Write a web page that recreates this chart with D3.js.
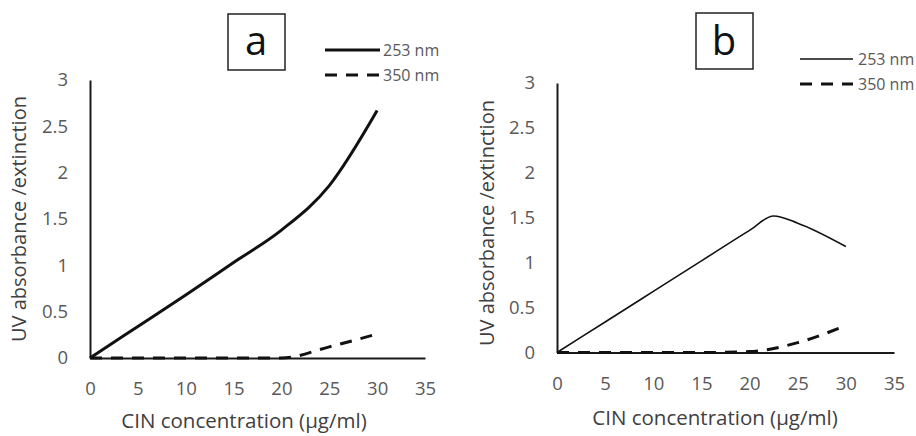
<!DOCTYPE html>
<html>
<head>
<meta charset="utf-8">
<script src="https://cdn.jsdelivr.net/npm/d3@7"></script>
<style>
  body { margin: 0; background: #fff; }
  svg { display: block; font-family: "Open Sans", sans-serif; }
</style>
</head>
<body>
<div id="content"></div>
<script>
// concentrations (µg/ml) and absorbance
var concA = [0, 5, 10, 15, 20, 25, 30];
var a253 = [0, 0.34, 0.68, 1.03, 1.38, 1.86, 2.67];
var a350 = [0, 0, 0, 0, 0, 0.12, 0.26];

var concB253 = [0, 5, 10, 15, 20, 22.5, 25, 30];
var b253 = [0, 0.34, 0.68, 1.02, 1.36, 1.52, 1.44, 1.18];
var concB350 = [0, 5, 10, 15, 20, 25, 30];
var b350 = [0, 0, 0, 0, 0.01, 0.11, 0.3];

var xTicks = [0, 5, 10, 15, 20, 25, 30, 35];
var yTicks = [0, 0.5, 1, 1.5, 2, 2.5, 3];
var seriesNames = ["253 nm", "350 nm"];
var panelLetters = ["a", "b"];

var width = 916, height = 436;

var svg = d3.select("#content").append("svg")
    .attr("width", width)
    .attr("height", height);

var panels = [
    {
        letter: panelLetters[0],
        x: [90, 425], y: [358, 80],
        series: [
            { name: seriesNames[0], xs: concA, ys: a253, width: 3, dash: null },
            { name: seriesNames[1], xs: concA, ys: a350, width: 3, dash: "12,9" }
        ],
        box: [228, 14], letterX: 256,
        legend: { x1: 325, x2: 380, y: [50, 75], tx: 383 },
        xTitle: [244, 428], yTitle: [26, 219], tickPad: 24
    },
    {
        letter: panelLetters[1],
        x: [557, 894], y: [352.5, 83],
        series: [
            { name: seriesNames[0], xs: concB253, ys: b253, width: 1.6, dash: null },
            { name: seriesNames[1], xs: concB350, ys: b350, width: 3, dash: "12,9" }
        ],
        box: [696, 13], letterX: 724,
        legend: { x1: 800, x2: 853, y: [59, 84], tx: 858 },
        xTitle: [715, 425], yTitle: [494, 223], tickPad: 24
    }
];

panels.forEach(function (p) {
    var x = d3.scaleLinear().domain([0, 35]).range(p.x);
    var y = d3.scaleLinear().domain([0, 3]).range(p.y);

    var xAxis = svg.append("g")
        .attr("transform", `translate(0, ${p.y[0]})`)
        .call(d3.axisBottom(x).tickValues(xTicks).tickSize(0).tickPadding(p.tickPad));

    var yAxis = svg.append("g")
        .attr("transform", `translate(${p.x[0]}, 0)`)
        .call(d3.axisLeft(y).tickValues(yTicks).tickSize(0).tickPadding(22)
            .tickFormat(d3.format("")));

    [xAxis, yAxis].forEach(function (ax) {
        ax.select(".domain").attr("stroke", "#1a1a1a").attr("stroke-width", 2);
        ax.selectAll("text")
            .attr("fill", "#595959")
            .style("font-size", "18.5px")
            .style("font-family", "'Open Sans', sans-serif");
    });

    var line = d3.line()
        .x(function (d) { return x(d[0]); })
        .y(function (d) { return y(d[1]); })
        .curve(d3.curveMonotoneX);

    p.series.forEach(function (s) {
        svg.append("path")
            .datum(d3.zip(s.xs, s.ys))
            .attr("fill", "none")
            .attr("stroke", "#111")
            .attr("stroke-width", s.width)
            .attr("stroke-dasharray", s.dash)
            .attr("stroke-linejoin", "round")
            .attr("d", line);
    });

    // legend
    p.series.forEach(function (s, i) {
        svg.append("line")
            .attr("x1", p.legend.x1).attr("x2", p.legend.x2)
            .attr("y1", p.legend.y[i]).attr("y2", p.legend.y[i])
            .attr("stroke", "#111")
            .attr("stroke-width", s.width)
            .attr("stroke-dasharray", s.dash);
        svg.append("text")
            .attr("x", p.legend.tx)
            .attr("y", p.legend.y[i])
            .attr("dy", "0.35em")
            .attr("fill", "#595959")
            .style("font-size", "16px")
            .text(s.name);
    });

    // panel letter box
    svg.append("rect")
        .attr("x", p.box[0]).attr("y", p.box[1])
        .attr("width", 57).attr("height", 56)
        .attr("fill", "none")
        .attr("stroke", "#222")
        .attr("stroke-width", 1.5);
    svg.append("text")
        .attr("x", p.letterX)
        .attr("y", 55)
        .attr("text-anchor", "middle")
        .attr("fill", "#111")
        .style("font-size", "40px")
        .text(p.letter);

    // axis titles
    svg.append("text")
        .attr("x", p.xTitle[0]).attr("y", p.xTitle[1])
        .attr("text-anchor", "middle")
        .attr("fill", "#404040")
        .style("font-size", "20.5px")
        .text("CIN concentration (µg/ml)");

    svg.append("text")
        .attr("transform", `translate(${p.yTitle[0]}, ${p.yTitle[1]}) rotate(-90)`)
        .attr("text-anchor", "middle")
        .attr("fill", "#404040")
        .style("font-size", "20px")
        .text("UV absorbance /extinction");
});
</script>
</body>
</html>
